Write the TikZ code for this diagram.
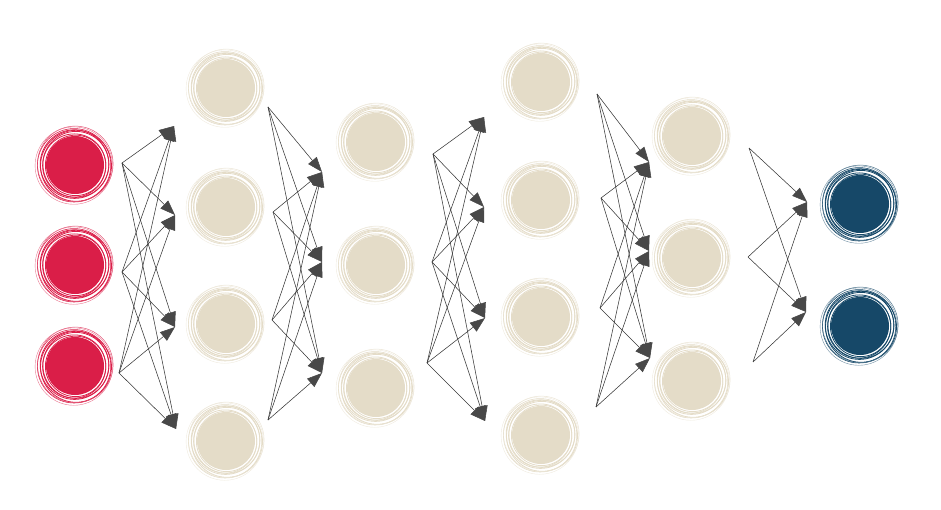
\documentclass[tikz,border=0pt]{standalone}
\usetikzlibrary{arrows.meta}
\definecolor{cred}{RGB}{218,30,72}
\definecolor{cbeige}{RGB}{228,220,200}
\definecolor{cblue}{RGB}{22,72,104}
\definecolor{cline}{RGB}{55,55,55}
\definecolor{chead}{RGB}{72,72,72}
\begin{document}
\begin{tikzpicture}[x=1pt,y=-1pt,
  neuron/.style={circle, inner sep=0pt, minimum size=58pt, fill=#1, draw=none},
  ring/.style={draw=#1, line width=0.8pt},
  conn/.style={draw=cline, line width=0.55pt, -{Triangle[length=15pt,width=11pt,color=chead,fill=chead]}}]
\useasboundingbox (0,0) rectangle (941,510);
% neurons
\node[neuron=cred] (a1) at (75,165) {};
\node[neuron=cred] (a2) at (75,265) {};
\node[neuron=cred] (a3) at (75,366) {};
\node[neuron=cbeige] (b1) at (226,88) {};
\node[neuron=cbeige] (b2) at (226,207) {};
\node[neuron=cbeige] (b3) at (226,324) {};
\node[neuron=cbeige] (b4) at (226,441) {};
\node[neuron=cbeige] (c1) at (376,142) {};
\node[neuron=cbeige] (c2) at (376,265) {};
\node[neuron=cbeige] (c3) at (376,388) {};
\node[neuron=cbeige] (d1) at (541,82) {};
\node[neuron=cbeige] (d2) at (541,200) {};
\node[neuron=cbeige] (d3) at (541,317) {};
\node[neuron=cbeige] (d4) at (541,435) {};
\node[neuron=cbeige] (e1) at (692,136) {};
\node[neuron=cbeige] (e2) at (692,258) {};
\node[neuron=cbeige] (e3) at (692,381) {};
\node[neuron=cblue] (f1) at (860,204) {};
\node[neuron=cblue] (f2) at (860,326) {};
% scribbled rings
\foreach \n/\c in {a1/cred,a2/cred,a3/cred,b1/cbeige,b2/cbeige,b3/cbeige,b4/cbeige,
  c1/cbeige,c2/cbeige,c3/cbeige,d1/cbeige,d2/cbeige,d3/cbeige,d4/cbeige,
  e1/cbeige,e2/cbeige,e3/cbeige,f1/cblue,f2/cblue}{
  \draw[ring=\c] ([shift={(0.6,0.4)}]\n.center) circle (30.2);
  \draw[ring=\c] ([shift={(-0.8,0.5)}]\n.center) circle (31.6);
  \draw[ring=\c] ([shift={(0.9,-0.6)}]\n.center) circle (33);
  \draw[ring=\c] ([shift={(-0.5,-0.9)}]\n.center) circle (34.3);
  \draw[ring=\c] ([shift={(1.0,0.8)}]\n.center) circle (35.5);
  \draw[ring=\c, line width=0.6pt] ([shift={(-0.9,0.3)}]\n.center) circle (36.7);
  \draw[\c!75!white, line width=0.5pt] ([shift={(0.3,-1.1)}]\n.center) circle (37.8);
  \draw[\c!60!white, line width=0.4pt] ([shift={(-1.2,0.6)}]\n.center) circle (38.7);
}
% source and target points
\coordinate (s1a) at (122,163); \coordinate (s1b) at (122,272); \coordinate (s1c) at (119,373);
\coordinate (t1a) at (174,126); \coordinate (t1b) at (175,215); \coordinate (t1c) at (175,327); \coordinate (t1d) at (176,429);
\coordinate (s2a) at (268,107); \coordinate (s2b) at (273,212); \coordinate (s2c) at (272,320); \coordinate (s2d) at (268,420);
\coordinate (t2a) at (322,172); \coordinate (t2b) at (322,262); \coordinate (t2c) at (322,373);
\coordinate (s3a) at (433,154); \coordinate (s3b) at (432,262); \coordinate (s3c) at (427,363);
\coordinate (t3a) at (484,117); \coordinate (t3b) at (484,207); \coordinate (t3c) at (485,318); \coordinate (t3d) at (485,421);
\coordinate (s4a) at (597,94); \coordinate (s4b) at (601,198); \coordinate (s4c) at (600,308); \coordinate (s4d) at (596,407);
\coordinate (t4a) at (649,162); \coordinate (t4b) at (649,251); \coordinate (t4c) at (650,358);
\coordinate (s5a) at (749,148); \coordinate (s5b) at (748,257); \coordinate (s5c) at (753,362);
\coordinate (t5a) at (807,202); \coordinate (t5b) at (806,312);
% connectors
\foreach \s in {s1a,s1b,s1c}{\foreach \t in {t1a,t1b,t1c,t1d}{\draw[conn] (\s) -- (\t);}}
\foreach \s in {s2a,s2b,s2c,s2d}{\foreach \t in {t2a,t2b,t2c}{\draw[conn] (\s) -- (\t);}}
\foreach \s in {s3a,s3b,s3c}{\foreach \t in {t3a,t3b,t3c,t3d}{\draw[conn] (\s) -- (\t);}}
\foreach \s in {s4a,s4b,s4c,s4d}{\foreach \t in {t4a,t4b,t4c}{\draw[conn] (\s) -- (\t);}}
\foreach \s in {s5a,s5b,s5c}{\foreach \t in {t5a,t5b}{\draw[conn] (\s) -- (\t);}}
\end{tikzpicture}
\end{document}
